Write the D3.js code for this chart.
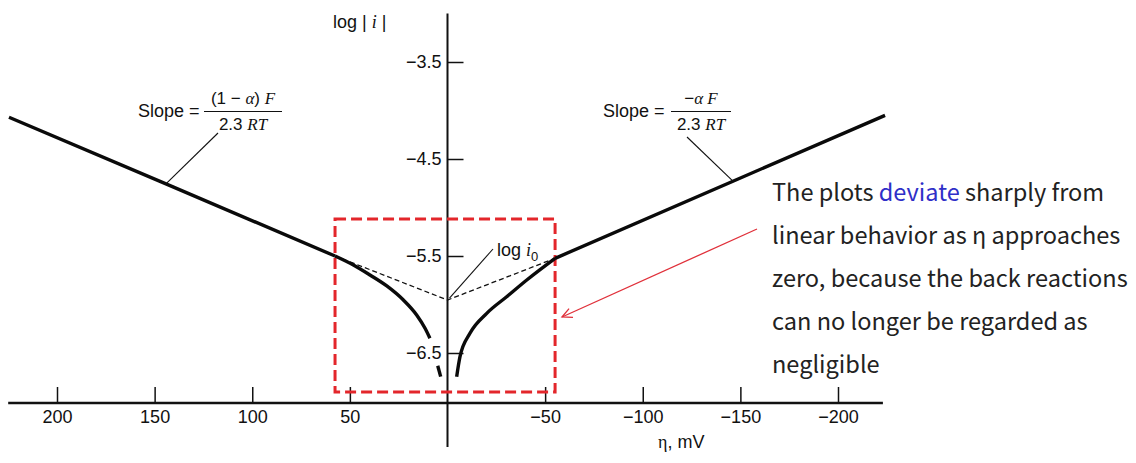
<!DOCTYPE html>
<html><head><meta charset="utf-8">
<script src="https://cdn.jsdelivr.net/npm/d3@7"></script>
<style>body{margin:0;background:#fff} svg{display:block}</style>
</head><body><svg id="c" width="1136" height="463"></svg>
<script>
// ---------- data ----------
const xTicks = [200, 150, 100, 50, -50, -100, -150, -200];
const yTicks = [-3.5, -4.5, -5.5, -6.5];
const xAxisExtent = [225, -223];
const yAxisExtent = [-3.0, -7.47];
// anodic branch (eta > 0): Tafel-linear part, then curved part
const anodicLinEta  = [224.6, 144.2, 57.6];
const anodicLinLogI = [-4.07, -4.757, -5.5];
const anodicEta  = [57.6, 48.2, 39.7, 31.1, 22.6, 15.8, 11.5, 9.0];
const anodicLogI = [-5.5, -5.593, -5.696, -5.809, -5.954, -6.108, -6.245, -6.348];
const anodicTailEta  = [5.0, 3.5];
const anodicTailLogI = [-6.631, -6.744];
// cathodic branch (eta < 0): curved part, then Tafel-linear part
const cathodicEta  = [-4.7, -6.4, -11.5, -20.1, -30.3, -40.6, -55.1];
const cathodicLogI = [-6.744, -6.538, -6.297, -6.091, -5.92, -5.747, -5.524];
const cathodicLinEta  = [-55.1, -146.2, -224.1];
const cathodicLinLogI = [-5.524, -4.729, -4.05];
// Tafel extrapolations to log i0
const tafelEta  = [57.6, 0, -55.1];
const tafelLogI = [-5.5, -5.954, -5.524];
// highlight box
const boxEta  = [57.6, -55.1];
const boxLogI = [-5.119, -6.902];
const noteLines = [
  [["The plots ", "#222"], ["deviate", "#2f2fc8"], [" sharply from", "#222"]],
  [["linear behavior as η approaches", "#222"]],
  [["zero, because the back reactions", "#222"]],
  [["can no longer be regarded as", "#222"]],
  [["negligible", "#222"]]
];

// ---------- drawing ----------
const svg = d3.select("#c");
const x = d3.scaleLinear().domain([200, -200]).range([57, 838]);
const y = d3.scaleLinear().domain([-3.5, -6.5]).range([62, 353]);
const sans = "'Liberation Sans', Arial, sans-serif";
const serif = "'Liberation Serif', 'Times New Roman', serif";
const zip = (a, b) => a.map((v, i) => [v, b[i]]);

// axes
const x0 = x(0), yBase = 403;
svg.append("line").attr("x1", x(xAxisExtent[0])).attr("x2", x(xAxisExtent[1]))
  .attr("y1", yBase).attr("y2", yBase).attr("stroke", "#111").attr("stroke-width", 2.6);
svg.append("line").attr("x1", x0).attr("x2", x0)
  .attr("y1", y(yAxisExtent[0])).attr("y2", y(yAxisExtent[1])).attr("stroke", "#111").attr("stroke-width", 2);

const xa = svg.append("g").attr("transform", `translate(0,${yBase})`)
  .call(d3.axisBottom(x).tickValues(xTicks).tickSizeInner(-16).tickSizeOuter(0).tickPadding(7)
    .tickFormat(d3.format("d")));
xa.select(".domain").remove();
xa.selectAll(".tick line").attr("stroke", "#111").attr("stroke-width", 1.5);
xa.selectAll("text").attr("font-family", sans).attr("font-size", 18).attr("fill", "#111");

const ya = svg.append("g").attr("transform", `translate(${x0},0)`)
  .call(d3.axisLeft(y).tickValues(yTicks).tickSizeInner(-16).tickSizeOuter(0).tickPadding(6)
    .tickFormat(d3.format(".1f")));
ya.select(".domain").remove();
ya.selectAll(".tick line").attr("stroke", "#111").attr("stroke-width", 1.5);
ya.selectAll("text").attr("font-family", sans).attr("font-size", 18).attr("fill", "#111");

// axis titles
const yt = svg.append("text").attr("x", 333).attr("y", 28).attr("font-family", sans)
  .attr("font-size", 18).attr("fill", "#111");
yt.append("tspan").text("log | ");
yt.append("tspan").attr("font-family", serif).attr("font-style", "italic").text("i");
yt.append("tspan").text(" |");
const xt = svg.append("text").attr("x", 658).attr("y", 448).attr("font-family", sans)
  .attr("font-size", 18).attr("fill", "#111");
xt.append("tspan").attr("font-family", serif).text("η");
xt.append("tspan").text(", mV");

// red dashed box
svg.append("rect")
  .attr("x", x(boxEta[0])).attr("y", y(boxLogI[0]))
  .attr("width", x(boxEta[1]) - x(boxEta[0])).attr("height", y(boxLogI[1]) - y(boxLogI[0]))
  .attr("fill", "none").attr("stroke", "#e3262b").attr("stroke-width", 3)
  .attr("stroke-dasharray", "11,5");

// dashed Tafel lines
svg.append("path").datum(zip(tafelEta, tafelLogI))
  .attr("d", d3.line().x(d => x(d[0])).y(d => y(d[1])))
  .attr("fill", "none").attr("stroke", "#111").attr("stroke-width", 1.3).attr("stroke-dasharray", "5,3");

// curves
const curved = d3.line().x(d => x(d[0])).y(d => y(d[1])).curve(d3.curveMonotoneX);
const straight = d3.line().x(d => x(d[0])).y(d => y(d[1]));
const segs = [
  [zip(anodicLinEta, anodicLinLogI), straight],
  [zip(anodicEta, anodicLogI), curved],
  [zip(anodicTailEta, anodicTailLogI), straight],
  [zip(cathodicEta, cathodicLogI), curved],
  [zip(cathodicLinEta, cathodicLinLogI), straight]
];
segs.forEach(([seg, gen]) => svg.append("path").datum(seg).attr("d", gen)
  .attr("fill", "none").attr("stroke", "#0a0a0a").attr("stroke-width", 3.4)
  .attr("stroke-linejoin", "round"));

// leaders
const leader = (x1, y1, x2, y2) => svg.append("line").attr("x1", x1).attr("y1", y1)
  .attr("x2", x2).attr("y2", y2).attr("stroke", "#111").attr("stroke-width", 1.1);
leader(x(anodicLinEta[1]), y(anodicLinLogI[1]), 218, 133);
leader(x(cathodicLinEta[1]), y(cathodicLinLogI[1]), 687, 137);
leader(x(0) + 2, y(tafelLogI[1]) - 2, 493, 249);

// slope labels
function slopeLabel(xs, num, xc, barW) {
  svg.append("text").attr("x", xs).attr("y", 117).attr("font-family", sans)
    .attr("font-size", 18).attr("fill", "#111").text("Slope =");
  const n = svg.append("text").attr("x", xc).attr("y", 104).attr("text-anchor", "middle")
    .attr("font-family", sans).attr("font-size", 17).attr("fill", "#111");
  num.forEach(([t, it]) => n.append("tspan").attr("font-family", it ? serif : sans)
    .attr("font-style", it ? "italic" : "normal").text(t));
  svg.append("line").attr("x1", xc - barW / 2).attr("x2", xc + barW / 2)
    .attr("y1", 111.5).attr("y2", 111.5).attr("stroke", "#111").attr("stroke-width", 1.2);
  const d = svg.append("text").attr("x", xc).attr("y", 129.5).attr("text-anchor", "middle")
    .attr("font-family", sans).attr("font-size", 17).attr("fill", "#111");
  d.append("tspan").text("2.3 ");
  d.append("tspan").attr("font-family", serif).attr("font-style", "italic").text("RT");
}
slopeLabel(138, [["(1 − ", false], ["α", true], [") ", false], ["F", true]], 243, 78);
slopeLabel(603, [["−", false], ["α", true], [" F", true]], 701, 60);

// log i0 label
const li = svg.append("text").attr("x", 497).attr("y", 256).attr("font-family", sans)
  .attr("font-size", 18).attr("fill", "#111");
li.append("tspan").text("log ");
li.append("tspan").attr("font-family", serif).attr("font-style", "italic").text("i");
li.append("tspan").attr("font-size", 13).attr("dy", 5).text("0");

// red arrow
const ax1 = 757, ay1 = 229, ax2 = 562, ay2 = 317;
svg.append("line").attr("x1", ax1).attr("y1", ay1).attr("x2", ax2).attr("y2", ay2)
  .attr("stroke", "#e0303a").attr("stroke-width", 1.3);
const ang = Math.atan2(ay1 - ay2, ax1 - ax2), hl = 11, hw = 0.45;
svg.append("polyline").attr("points", [
  [ax2 + hl * Math.cos(ang + hw), ay2 + hl * Math.sin(ang + hw)], [ax2, ay2],
  [ax2 + hl * Math.cos(ang - hw), ay2 + hl * Math.sin(ang - hw)]].map(p => p.join(",")).join(" "))
  .attr("fill", "none").attr("stroke", "#e0303a").attr("stroke-width", 1.3);

// note text
const noteFont = "'Noto Sans CJK KR', 'Noto Sans', sans-serif";
const noteG = svg.append("g");
const notes = noteLines.map((parts, i) => {
  const t = noteG.append("text").attr("x", 772).attr("y", 200.5 + i * 43.2)
    .attr("font-family", noteFont).attr("font-size", 24);
  parts.forEach(([s, c]) => t.append("tspan").attr("fill", c).text(s));
  return t;
});
const w = notes[2].node().getComputedTextLength();
const fs = 24 * 356 / w;
notes.forEach(t => t.attr("font-size", fs));
</script></body></html>
